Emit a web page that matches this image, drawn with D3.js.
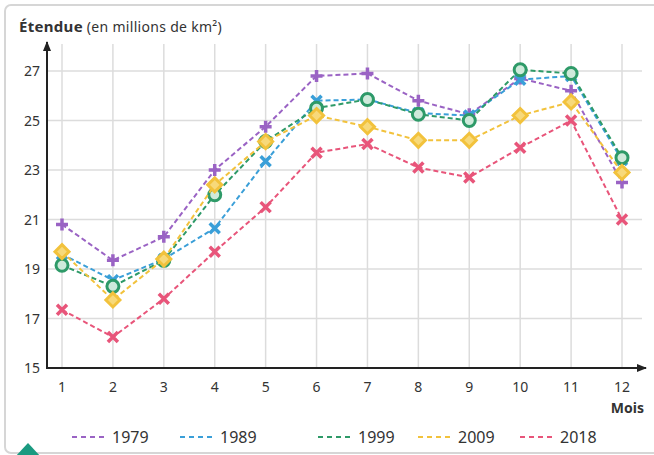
<!DOCTYPE html>
<html>
<head>
<meta charset="utf-8">
<script src="https://cdn.jsdelivr.net/npm/d3@7"></script>
<style>
  body { margin: 0; background: #fff; }
  text { font-family: "Noto Sans", sans-serif; fill: #333; }
</style>
</head>
<body>
<div id="chart"></div>
<script>
/* Sea ice extent by month, several years */

const months = [1, 2, 3, 4, 5, 6, 7, 8, 9, 10, 11, 12];
const yTicks = [15, 17, 19, 21, 23, 25, 27];
const years = ["1979", "1989", "1999", "2009", "2018"];

const v1979 = [20.8, 19.35, 20.3, 23.0, 24.75, 26.8, 26.9, 25.8, 25.25, 26.7, 26.2, 22.5];
const v1989 = [19.6, 18.55, 19.4, 20.65, 23.35, 25.8, 25.85, 25.3, 25.2, 26.65, 26.8, 23.4];
const v1999 = [19.15, 18.3, 19.35, 22.0, 24.15, 25.5, 25.85, 25.25, 25.0, 27.05, 26.9, 23.5];
const v2009 = [19.7, 17.75, 19.4, 22.4, 24.15, 25.2, 24.75, 24.2, 24.2, 25.2, 25.75, 22.9];
const v2018 = [17.35, 16.25, 17.8, 19.7, 21.5, 23.7, 24.05, 23.1, 22.7, 23.9, 25.0, 21.0];

const height = 455,
    width = 654;

// one entry per year, built from the arrays above
const series = [
    { year: years[0], values: v1979, color: "#9a63c4", mark: "plus" },
    { year: years[1], values: v1989, color: "#3a9fd8", mark: "cross" },
    { year: years[2], values: v1999, color: "#2e9a68", mark: "circle" },
    { year: years[3], values: v2009, color: "#f2c23c", mark: "diamond" },
    { year: years[4], values: v2018, color: "#e8557a", mark: "cross" }
];

let svg = d3.select("#chart")
    .append("svg")
    .attr("width", width)
    .attr("height", height);

// outer frame
svg.append("rect")
    .attr("x", 5).attr("y", 5)
    .attr("width", width + 10).attr("height", height - 7)
    .attr("rx", 6)
    .attr("fill", "none")
    .attr("stroke", "#d6d6d6")
    .attr("stroke-width", 2);

let x = d3.scaleLinear()
    .domain([1, 12])
    .range([62, 622]);

let y = d3.scaleLinear()
    .domain([15, 27])
    .range([368, 71]);

const x0 = 47, xEnd = 646, yTop = 42;

// grid
svg.append("g")
    .selectAll("line")
    .data(yTicks.slice(1))
    .join("line")
    .attr("x1", x0).attr("x2", 642)
    .attr("y1", d => y(d)).attr("y2", d => y(d))
    .attr("stroke", "#dcdcdc")
    .attr("stroke-width", 1.5);

svg.append("g")
    .selectAll("line")
    .data(months)
    .join("line")
    .attr("x1", d => x(d)).attr("x2", d => x(d))
    .attr("y1", 368).attr("y2", 44)
    .attr("stroke", "#dcdcdc")
    .attr("stroke-width", 1.5);

// axes with arrows
svg.append("defs").append("marker")
    .attr("id", "arrow")
    .attr("viewBox", "0 0 10 10")
    .attr("refX", 9).attr("refY", 5)
    .attr("markerWidth", 5).attr("markerHeight", 5)
    .attr("markerUnits", "strokeWidth")
    .attr("orient", "auto")
    .append("path")
    .attr("d", "M0,1 L10,5 L0,9 z")
    .attr("fill", "#222");

svg.append("line")
    .attr("x1", x0).attr("x2", x0)
    .attr("y1", y(15) + 1).attr("y2", yTop)
    .attr("stroke", "#222").attr("stroke-width", 2)
    .attr("marker-end", "url(#arrow)");

svg.append("line")
    .attr("x1", x0 - 1).attr("x2", xEnd)
    .attr("y1", y(15)).attr("y2", y(15))
    .attr("stroke", "#222").attr("stroke-width", 2)
    .attr("marker-end", "url(#arrow)");

// tick labels
svg.append("g")
    .selectAll("text")
    .data(yTicks)
    .join("text")
    .attr("x", 40)
    .attr("y", d => y(d) + 5)
    .attr("text-anchor", "end")
    .style("font-size", "14px")
    .text(d => d);

svg.append("g")
    .selectAll("text")
    .data(months)
    .join("text")
    .attr("x", d => x(d))
    .attr("y", 392)
    .attr("text-anchor", "middle")
    .style("font-size", "14px")
    .text(d => d);

svg.append("text")
    .attr("x", 644).attr("y", 413)
    .attr("text-anchor", "end")
    .style("font-size", "14px")
    .style("font-weight", "bold")
    .text("Mois");

// title
let title = svg.append("text")
    .attr("x", 19).attr("y", 32)
    .style("font-size", "15px")
    .style("letter-spacing", "0.3px");
title.append("tspan").style("font-weight", "bold").text("Étendue");
title.append("tspan").style("font-size", "14px").text(" (en millions de km²)");

// lines
let line = d3.line()
    .x((d, i) => x(months[i]))
    .y(d => y(d));

let grp = svg.selectAll(".serie")
    .data(series)
    .join("g")
    .attr("class", "serie");

grp.append("path")
    .attr("d", d => line(d.values))
    .attr("fill", "none")
    .attr("stroke", d => d.color)
    .attr("stroke-width", 2)
    .attr("stroke-dasharray", "5,3");

// markers
function drawMark(g, kind, color) {
    if (kind === "plus") {
        g.append("path").attr("d", "M-6,0H6M0,-6V6")
            .attr("stroke", color).attr("stroke-width", 3.5);
    } else if (kind === "cross") {
        g.append("path").attr("d", "M-5,-5L5,5M-5,5L5,-5")
            .attr("stroke", color).attr("stroke-width", 3.5);
    } else if (kind === "circle") {
        g.append("circle").attr("r", 6)
            .attr("fill", "#cfeadb")
            .attr("stroke", color).attr("stroke-width", 3);
    } else {
        g.append("path").attr("d", "M0,-7L7,0L0,7L-7,0Z")
            .attr("fill", "#f7d97a")
            .attr("stroke", color).attr("stroke-width", 3);
    }
}

grp.each(function (s) {
    d3.select(this).selectAll(".pt")
        .data(s.values)
        .join("g")
        .attr("class", "pt")
        .attr("transform", (d, i) => `translate(${x(months[i])},${y(d)})`)
        .each(function () { drawMark(d3.select(this), s.mark, s.color); });
});

// legend
const legendX = [72, 180, 318, 418, 520];
let leg = svg.selectAll(".leg")
    .data(series)
    .join("g")
    .attr("class", "leg")
    .attr("transform", (d, i) => `translate(${legendX[i]},437)`);

leg.append("line")
    .attr("x1", 0).attr("x2", 35)
    .attr("stroke", d => d.color)
    .attr("stroke-width", 2)
    .attr("stroke-dasharray", "5,4");

leg.append("text")
    .attr("x", 40).attr("y", 6)
    .style("font-size", "16px")
    .text(d => d.year);

// small teal corner shape
svg.append("path")
    .attr("d", "M14,458 L28,443 L42,458 Z")
    .attr("fill", "#1a9a80");
</script>
</body>
</html>
